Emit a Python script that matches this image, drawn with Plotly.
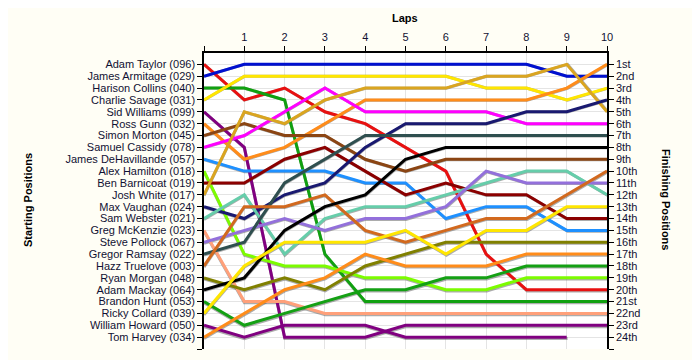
import plotly.graph_objects as go

# ---------------- data ----------------
laps = list(range(0, 11))
lap_labels = ["", "1", "2", "3", "4", "5", "6", "7", "8", "9", "10"]

drivers = [
    "Adam Taylor (096)", "James Armitage (029)", "Harison Collins (040)",
    "Charlie Savage (031)", "Sid Williams (099)", "Ross Gunn (032)",
    "Simon Morton (045)", "Samuel Cassidy (078)", "James DeHavillande (057)",
    "Alex Hamilton (018)", "Ben Barnicoat (019)", "Josh White (017)",
    "Max Vaughan (024)", "Sam Webster (021)", "Greg McKenzie (023)",
    "Steve Pollock (067)", "Gregor Ramsay (022)", "Hazz Truelove (003)",
    "Ryan Morgan (048)", "Adam Mackay (064)", "Brandon Hunt (053)",
    "Ricky Collard (039)", "William Howard (050)", "Tom Harvey (034)",
]

finish_labels = ["1st", "2nd", "3rd", "4th", "5th", "6th", "7th", "8th", "9th",
                 "10th", "11th", "12th", "13th", "14th", "15th", "16th", "17th",
                 "18th", "19th", "20th", "21st", "22nd", "23rd", "24th"]

# positions per lap (lap 0 = grid position)
adam_taylor        = [1, 4, 3, 5, 6, 8, 10, 17, 20, 20, 20]
james_armitage     = [2, 1, 1, 1, 1, 1, 1, 1, 1, 2, 2]
harison_collins    = [3, 3, 4, 17, 21, 21, 21, 21, 21, 21, 21]
charlie_savage     = [4, 2, 2, 2, 2, 2, 2, 3, 3, 4, 3]
sid_williams       = [5, 8, 24, 24, 24, 23, 23, 23, 23, 23, 23]
ross_gunn          = [6, 9, 8, 6, 4, 4, 4, 4, 4, 3, 1]
simon_morton       = [7, 6, 7, 7, 9, 10, 9, 9, 9, 9, 9]
samuel_cassidy     = [8, 7, 5, 3, 5, 5, 5, 5, 6, 6, 6]
james_dehavillande = [9, 10, 10, 10, 11, 11, 14, 13, 13, 15, 15]
alex_hamilton      = [10, 17, 18, 18, 19, 19, 20, 20, 19, 19, 19]
ben_barnicoat      = [11, 11, 9, 8, 10, 12, 11, 12, 12, 14, 14]
josh_white         = [12, 5, 6, 4, 3, 3, 3, 2, 2, 1, 5]
max_vaughan        = [13, 14, 12, 11, 8, 6, 6, 6, 5, 5, 4]
sam_webster        = [14, 12, 17, 14, 13, 13, 12, 11, 10, 10, 12]
greg_mckenzie      = [15, 21, 21, 22, 22, 22, 22, 22, 22, 22, 22]
steve_pollock      = [16, 15, 14, 15, 14, 14, 13, 10, 11, 11, 11]
gregor_ramsay      = [17, 16, 11, 9, 7, 7, 7, 7, 7, 7, 7]
hazz_truelove      = [18, 13, 13, 12, 15, 16, 15, 14, 14, 12, 10]
ryan_morgan        = [19, 20, 19, 20, 18, 17, 16, 16, 16, 16, 16]
adam_mackay        = [20, 19, 15, 13, 12, 9, 8, 8, 8, 8, 8]
brandon_hunt       = [21, 23, 22, 21, 20, 20, 19, 19, 18, 18, 18]
ricky_collard      = [22, 18, 16, 16, 16, 15, 17, 15, 15, 13, 13]
william_howard     = [23, 24, 23, 23, 23, 24, 24, 24, 24, 24, None]
tom_harvey         = [24, 22, 20, 19, 17, 18, 18, 18, 17, 17, 17]

series = [adam_taylor, james_armitage, harison_collins, charlie_savage,
          sid_williams, ross_gunn, simon_morton, samuel_cassidy,
          james_dehavillande, alex_hamilton, ben_barnicoat, josh_white,
          max_vaughan, sam_webster, greg_mckenzie, steve_pollock,
          gregor_ramsay, hazz_truelove, ryan_morgan, adam_mackay,
          brandon_hunt, ricky_collard, william_howard, tom_harvey]

# ---------------- style ----------------
colors = ["#E81010", "#0010D0", "#10A010", "#FFE600", "#800080", "#FF8C1A",
          "#8B4513", "#FF00FF", "#1E90FF", "#7CFC00", "#8B0000", "#DAA520",
          "#191970", "#66CDAA", "#FFA07A", "#9370DB", "#2F4F4F", "#D2691E",
          "#808000", "#000000", "#14A014", "#FFE600", "#800080", "#FF8C1A"]

BODY = 8  # default page body margin offsets the figure
L, R, T, B = 203 - BODY, 93, 51 - BODY, 11
W = 404
H = 298
FIG_W = L + W + R
FIG_H = T + H + B
NPOS = 25
dx, dy = 1.0, 1.5  # shadow offset in px
font_fam = "Liberation Sans, Arial, sans-serif"
txt_col = "#111133"

fig = go.Figure()

# shadows on the (hidden) base axes, drawn underneath
for s in series:
    fig.add_trace(go.Scatter(x=laps, y=s, mode="lines", xaxis="x", yaxis="y",
                             line=dict(color="rgba(90,90,90,0.5)", width=3),
                             hoverinfo="skip", showlegend=False,
                             connectgaps=False))
# coloured lines on the visible overlay axes
for name, s, c in zip(drivers, series, colors):
    fig.add_trace(go.Scatter(x=laps, y=s, mode="lines", name=name,
                             xaxis="x2", yaxis="y2",
                             line=dict(color=c, width=3),
                             showlegend=False, connectgaps=False))
# anchor trace for right axis
fig.add_trace(go.Scatter(x=[laps[0]], y=[1], xaxis="x2", yaxis="y3",
                         mode="markers", marker=dict(opacity=0),
                         showlegend=False, hoverinfo="skip"))

pos_vals = list(range(1, NPOS + 1))
axis_common = dict(showline=True, linecolor="black", linewidth=1.5,
                   ticks="outside", ticklen=5, tickcolor="black", tickwidth=1,
                   zeroline=False,
                   tickfont=dict(family=font_fam, size=11, color=txt_col))

fig.update_layout(
    width=FIG_W, height=FIG_H,
    margin=dict(l=L, r=R, t=T, b=B, pad=0),
    paper_bgcolor="#FFFEF5",
    plot_bgcolor="white",
    hovermode=False,
    # hidden base axes, shifted by the shadow offset
    xaxis=dict(domain=[dx / W, 1], range=[0, 10 * (1 - dx / W)],
               visible=False),
    yaxis=dict(domain=[0, 1 - dy / H], range=[NPOS * (1 - dy / H), 0],
               visible=False),
    # visible axes
    xaxis2=dict(overlaying="x", domain=[0, 1], range=[0, 10], side="top",
                anchor="y2", tickmode="array", tickvals=laps,
                ticktext=lap_labels, showgrid=True, gridcolor="#E4E4E4",
                gridwidth=1, **axis_common),
    yaxis2=dict(overlaying="y", domain=[0, 1], range=[NPOS, 0], anchor="x2",
                side="left", tickmode="array", tickvals=pos_vals,
                ticktext=drivers + [""], showgrid=True, gridcolor="#E4E4E4",
                gridwidth=1, **axis_common),
    yaxis3=dict(overlaying="y", domain=[0, 1], range=[NPOS, 0], anchor="x2",
                side="right", tickmode="array", tickvals=pos_vals,
                ticktext=finish_labels + [""], showgrid=False, **axis_common),
    annotations=[
        dict(text="<b>Laps</b>", xref="paper", yref="paper", x=0.5, y=1.112,
             showarrow=False, xanchor="center", yanchor="middle",
             font=dict(family=font_fam, size=11, color="black")),
        dict(text="<b>Starting Positions</b>", xref="paper", yref="paper",
             x=-0.433, y=0.5, textangle=-90, showarrow=False,
             xanchor="center", yanchor="middle",
             font=dict(family=font_fam, size=11, color="black")),
        dict(text="<b>Finishing Positions</b>", xref="paper", yref="paper",
             x=1.146, y=0.5, textangle=90, showarrow=False,
             xanchor="center", yanchor="middle",
             font=dict(family=font_fam, size=11, color="black")),
    ],
)

fig.write_html("out.html")
